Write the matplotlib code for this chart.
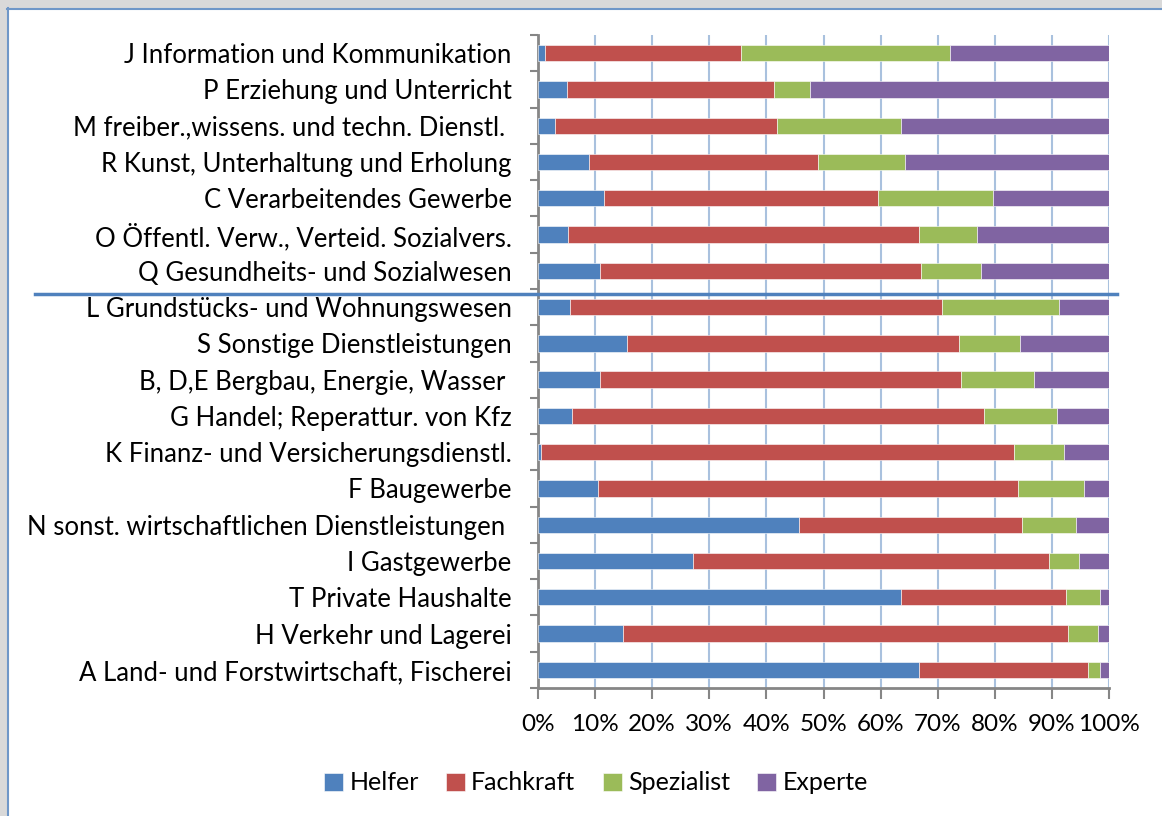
"""Qualification levels (Anforderungsniveau) by industry, stacked 100% bars."""

import matplotlib

matplotlib.use("Agg")

import matplotlib.pyplot as plt
import numpy as np
from matplotlib.lines import Line2D
from matplotlib.patches import Rectangle

plt.rcParams["font.family"] = ["Lato", "DejaVu Sans"]

categories = [
    "J Information und Kommunikation",
    "P Erziehung und Unterricht",
    "M freiber.,wissens. und techn. Dienstl. ",
    "R Kunst, Unterhaltung und Erholung",
    "C Verarbeitendes Gewerbe",
    "O Öffentl. Verw., Verteid. Sozialvers.",
    "Q Gesundheits- und Sozialwesen",
    "L Grundstücks- und Wohnungswesen",
    "S Sonstige Dienstleistungen",
    "B, D,E Bergbau, Energie, Wasser ",
    "G Handel; Reperattur. von Kfz",
    "K Finanz- und Versicherungsdienstl.",
    "F Baugewerbe",
    "N sonst. wirtschaftlichen Dienstleistungen ",
    "I Gastgewerbe",
    "T Private Haushalte",
    "H Verkehr und Lagerei",
    "A Land- und Forstwirtschaft, Fischerei",
]

helfer = [1.2, 5.0, 2.9, 8.9, 11.6, 5.3, 10.9, 5.6, 15.5, 10.9, 6.0, 0.5, 10.5, 45.7, 27.1, 63.5, 14.9, 66.8]
fachkraft = [34.3, 36.4, 39.0, 40.1, 47.9, 61.5, 56.2, 65.2, 58.3, 63.2, 72.1, 82.8, 73.5, 39.0, 62.4, 29.0, 77.9, 29.6]
spezialist = [36.7, 6.2, 21.6, 15.2, 20.1, 10.1, 10.5, 20.4, 10.6, 12.7, 12.8, 8.9, 11.6, 9.5, 5.2, 6.0, 5.3, 2.1]
experte = [27.8, 52.4, 36.5, 35.8, 20.4, 23.1, 22.4, 8.8, 15.6, 13.2, 9.1, 7.8, 4.4, 5.8, 5.3, 1.5, 1.9, 1.5]

series = {
    "Helfer": helfer,
    "Fachkraft": fachkraft,
    "Spezialist": spezialist,
    "Experte": experte,
}
colors = ["#4F81BD", "#C0504D", "#9BBB59", "#8064A2"]
x_ticks = np.arange(0, 101, 10)


def main() -> None:
    fig = plt.figure(figsize=(11.62, 8.16), dpi=100)
    W, H = 1162, 816

    # window frame (gray strip + blue border line at top/left)
    fig.patches.append(Rectangle((0, 1 - 8 / H), 1, 8 / H, transform=fig.transFigure, color="#d9d9d9", zorder=0))
    fig.patches.append(Rectangle((0, 0), 7 / W, 1, transform=fig.transFigure, color="#d9d9d9", zorder=0))
    fig.add_artist(Line2D([7 / W, 1], [1 - 8.5 / H, 1 - 8.5 / H], color="#6f97c8", lw=1.5))
    fig.add_artist(Line2D([7.5 / W, 7.5 / W], [0, 1 - 8 / H], color="#6f97c8", lw=1.5))

    ax = fig.add_axes([538 / W, 1 - 688 / H, 571 / W, 653 / H])
    y = np.arange(len(categories))
    left = np.zeros(len(categories))
    for (name, vals), color in zip(series.items(), colors):
        vals = np.asarray(vals, dtype=float)
        ax.barh(y, vals, left=left, height=0.45, color=color, label=name,
                edgecolor="white", linewidth=0.4, zorder=3)
        left += vals

    ax.set_xlim(0, 100)
    ax.set_ylim(len(categories) - 0.5, -0.5)
    ax.set_xticks(x_ticks)
    ax.set_xticklabels([f"{t}%" for t in x_ticks], fontsize=17.5)
    ax.set_yticks(y)
    ax.set_yticklabels(categories, fontsize=18.5)
    ax.set_yticks(np.arange(len(categories) + 1) - 0.5, minor=True)
    ax.tick_params(axis="y", which="major", length=0, pad=19)
    ax.tick_params(axis="y", which="minor", length=6, width=1.5, color="#868686")
    ax.tick_params(axis="x", length=8, width=1.5, color="#868686", pad=11)
    ax.grid(axis="x", color="#a9c1de", linewidth=1.5, zorder=0)

    for side in ("top", "right"):
        ax.spines[side].set_visible(False)
    for side in ("left", "bottom"):
        ax.spines[side].set_color("#868686")
        ax.spines[side].set_linewidth(2)

    # separator between the two groups of industries
    fig.add_artist(Line2D([35 / W, 1117 / W], [1 - 293.5 / H, 1 - 293.5 / H], color="#4F81BD", lw=2.5))

    fig.legend(loc="center", bbox_to_anchor=(596 / W, 1 - 783 / H), ncol=4, frameon=False,
               fontsize=18, handlelength=0.75, handleheight=0.75, handletextpad=0.25,
               columnspacing=1.1)

    fig.savefig("out.png", dpi=100)
    plt.close(fig)


if __name__ == "__main__":
    main()
